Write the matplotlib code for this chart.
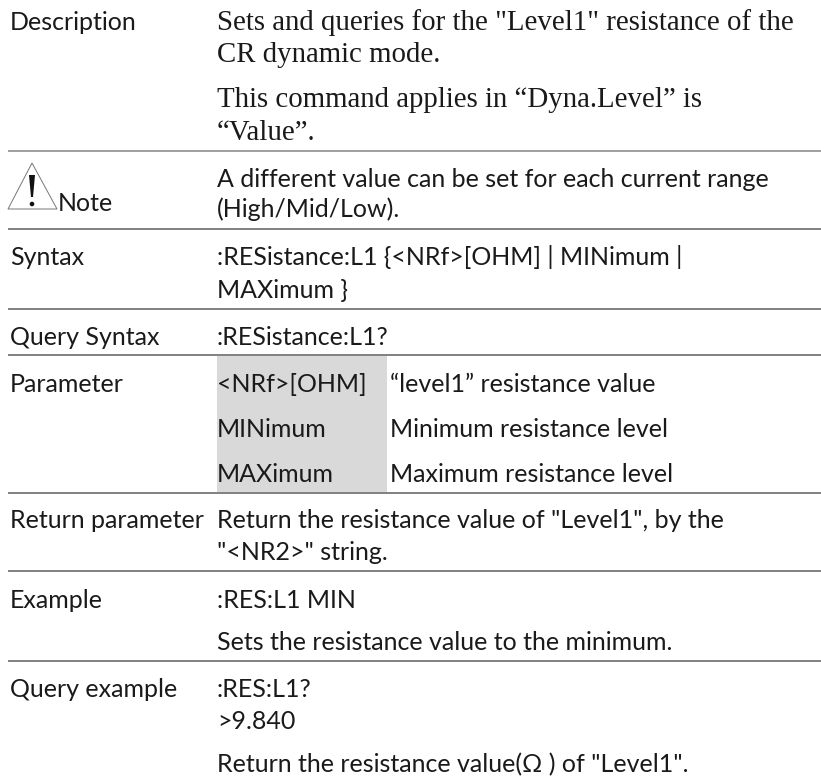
import matplotlib
matplotlib.use("Agg")
import matplotlib.pyplot as plt
from matplotlib.patches import Polygon, Rectangle, Circle

W = 821
H = 779
SANS = "Lato"
SERIF = "Liberation Serif"
SIZE = 18
SERIF_SIZE = 20.8

# row labels in the left column
labels = ["Description", "Note", "Syntax", "Query Syntax", "Parameter",
          "Return parameter", "Example", "Query example"]
label_y = [30, 211, 265, 345, 392, 528, 608, 697]
label_x = [10, 58, 10, 10, 10, 10, 10, 10]

serif_lines = ['Sets and queries for the "Level1" resistance of the',
               "CR dynamic mode.",
               "This command applies in \u201cDyna.Level\u201d is",
               "\u201cValue\u201d."]
serif_y = [30, 62, 107, 140]

body_lines = ["A different value can be set for each current range",
              "(High/Mid/Low).",
              ":RESistance:L1 {<NRf>[OHM] | MINimum |",
              "MAXimum }",
              ":RESistance:L1?",
              "\u201clevel1\u201d resistance value",
              "Minimum resistance level",
              "Maximum resistance level",
              'Return the resistance value of "Level1", by the',
              '"<NR2>" string.',
              ":RES:L1 MIN",
              "Sets the resistance value to the minimum.",
              ":RES:L1?",
              ">9.840",
              'Return the resistance value(\u03a9 ) of "Level1".']
body_x = [217, 217, 217, 217, 217, 390, 390, 390, 217, 217, 217, 217, 217, 217, 217]
body_y = [187, 217, 265, 298, 345, 392, 437, 482, 528, 560, 608, 650, 697, 729, 772]

param_names = ["<NRf>[OHM]", "MINimum", "MAXimum"]
param_y = [392, 437, 482]

rule_y = [150.5, 229, 309, 355, 493, 571, 661]
rule_colors = ["#a0a0a0", "#808080", "#808080", "#808080", "#808080", "#808080", "#808080"]

fig = plt.figure(figsize=(W / 100, H / 100), dpi=100)
ax = fig.add_axes([0, 0, 1, 1])
ax.set_xlim(0, W)
ax.set_ylim(H, 0)
ax.axis("off")

# grey cell behind parameter names
ax.add_patch(Rectangle((217, 356), 170, 137, facecolor="#d9d9d9", edgecolor="none"))

for y, c in zip(rule_y, rule_colors):
    ax.plot([8, W], [y, y], color=c, lw=1.4, solid_capstyle="butt")

for t, x, y in zip(labels, label_x, label_y):
    ax.text(x, y, t, family=SANS, fontsize=SIZE, color="#1a1a1a", va="baseline")

for t, y in zip(serif_lines, serif_y):
    ax.text(217, y, t, family=SERIF, fontsize=SERIF_SIZE, color="#1a1a1a", va="baseline")

for t, x, y in zip(body_lines, body_x, body_y):
    ax.text(x, y, t, family=SANS, fontsize=SIZE, color="#1a1a1a", va="baseline")

for t, y in zip(param_names, param_y):
    ax.text(217, y, t, family=SANS, fontsize=SIZE, color="#1a1a1a", va="baseline")

# warning triangle
ax.add_patch(Polygon([(32, 163), (8, 209), (57, 209)], closed=True,
                     facecolor="white", edgecolor="#777777", lw=0.7))
ax.add_patch(Polygon([(29, 175), (35, 175), (33, 197), (31, 197)], closed=True,
                     facecolor="#111111", edgecolor="none"))
ax.add_patch(Circle((32, 204), 2.3, facecolor="#111111", edgecolor="none"))

fig.savefig("out.png", dpi=100)
